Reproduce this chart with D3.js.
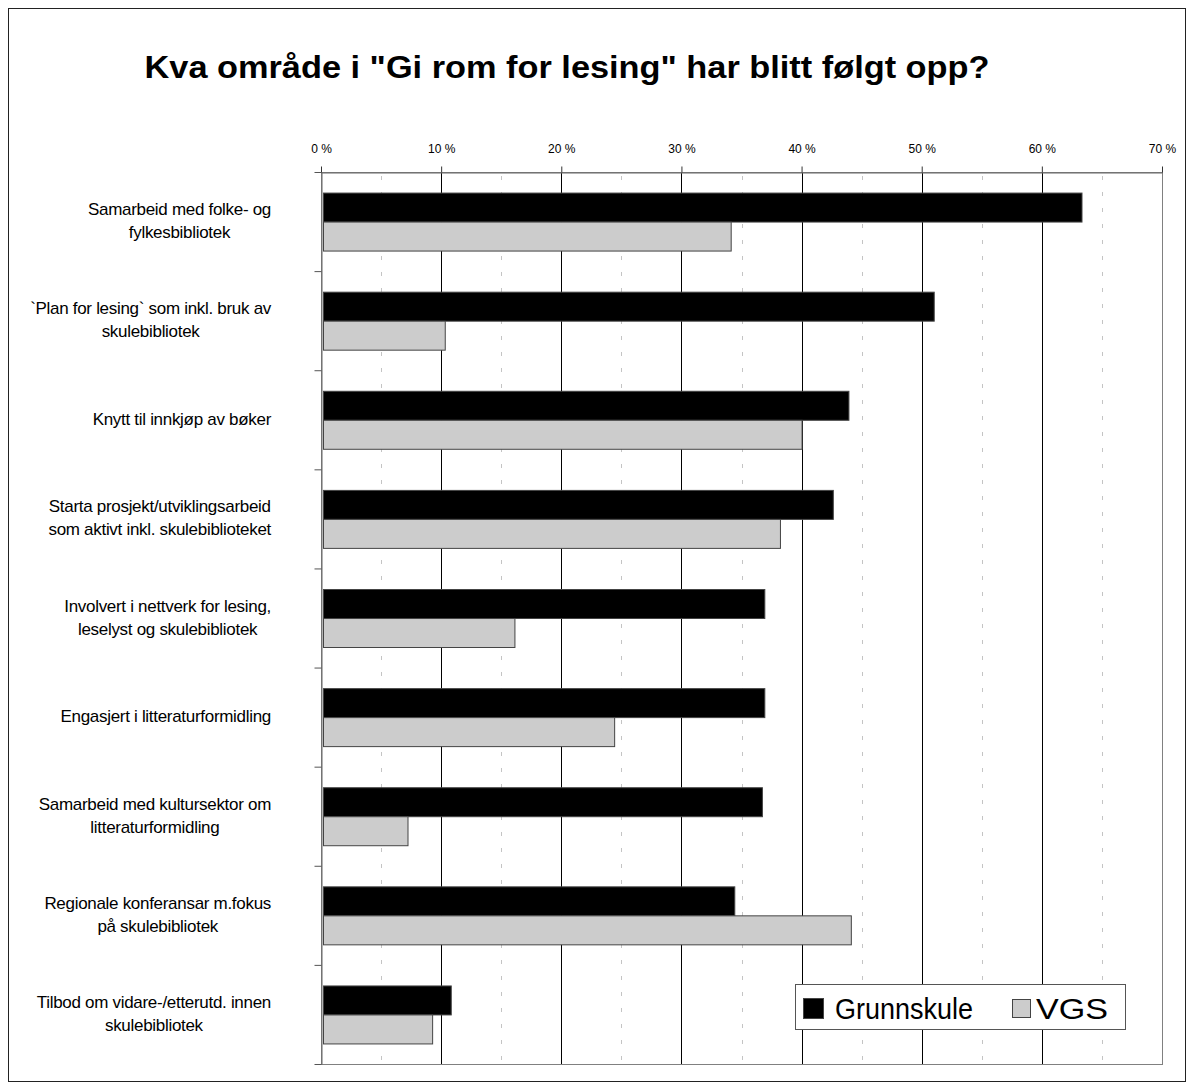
<!DOCTYPE html>
<html>
<head>
<meta charset="utf-8">
<script src="https://cdn.jsdelivr.net/npm/d3@7"></script>
<style>
body { margin: 0; background: #fff; }
text { font-family: "Liberation Sans", Arial, sans-serif; }
</style>
</head>
<body>
<svg width="1191" height="1089"></svg>
<script>
//data
var categories = [
    "Samarbeid med folke- og\nfylkesbibliotek",
    "`Plan for lesing` som inkl. bruk av\nskulebibliotek",
    "Knytt til innkjøp av bøker",
    "Starta prosjekt/utviklingsarbeid\nsom aktivt inkl. skulebiblioteket",
    "Involvert i nettverk for lesing,\nleselyst og skulebibliotek",
    "Engasjert i litteraturformidling",
    "Samarbeid med kultursektor om\nlitteraturformidling",
    "Regionale konferansar m.fokus\npå skulebibliotek",
    "Tilbod om vidare-/etterutd. innen\nskulebibliotek"
];
var grunnskule = [63.3, 51.0, 43.9, 42.6, 36.9, 36.9, 36.7, 34.4, 10.8];
var vgs = [34.1, 10.3, 40.0, 38.2, 16.1, 24.4, 7.2, 44.1, 9.25];
var series = ["Grunnskule", "VGS"];
var majorTicks = [0, 10, 20, 30, 40, 50, 60, 70];
var minorTicks = [5, 15, 25, 35, 45, 55, 65];
var title = "Kva område i \"Gi rom for lesing\" har blitt følgt opp?";

//colors
var fills = { "Grunnskule": "#000000", "VGS": "#cccccc" };

//sizes
var svg = d3.select("svg"),
    plot = { left: 321, right: 1162, top: 172, bottom: 1064 };

//scales
var x = d3.scaleLinear()
    .domain([0, 70])
    .range([plot.left, plot.right]);
var y = d3.scaleBand()
    .domain(d3.range(categories.length))
    .range([plot.top, plot.bottom])
    .paddingInner(0.415)
    .paddingOuter(0.2075);
var ySub = d3.scaleBand()
    .domain(series)
    .range([0, y.bandwidth()]);
var yEdge = d3.scaleLinear()
    .domain([0, categories.length])
    .range([plot.top, plot.bottom]);

//outer frame
svg.append("rect")
    .attr("x", 8.5).attr("y", 8.5)
    .attr("width", 1177).attr("height", 1073)
    .attr("fill", "#fff")
    .attr("stroke", "#222");

//title
svg.append("text")
    .attr("x", 567)
    .attr("y", 78)
    .attr("text-anchor", "middle")
    .attr("font-size", 31)
    .attr("font-weight", "bold")
    .attr("textLength", 845)
    .attr("lengthAdjust", "spacingAndGlyphs")
    .text(title);

//minor gridlines
svg.append("g").selectAll("line")
    .data(minorTicks)
    .enter().append("line")
    .attr("x1", d => Math.round(x(d)) + 0.5)
    .attr("x2", d => Math.round(x(d)) + 0.5)
    .attr("y1", plot.top + 4)
    .attr("y2", plot.bottom)
    .attr("stroke", "#c4c4c4")
    .attr("stroke-dasharray", "4,12");

//major gridlines
svg.append("g").selectAll("line")
    .data(majorTicks.slice(1, -1))
    .enter().append("line")
    .attr("x1", d => Math.round(x(d)) + 0.5)
    .attr("x2", d => Math.round(x(d)) + 0.5)
    .attr("y1", plot.top)
    .attr("y2", plot.bottom)
    .attr("stroke", "#000");

//plot border
svg.append("rect")
    .attr("x", plot.left + 0.5)
    .attr("y", plot.top + 0.5)
    .attr("width", plot.right - plot.left)
    .attr("height", plot.bottom - plot.top)
    .attr("fill", "none")
    .attr("stroke", "#808080");

//bars
var rows = categories.map((c, i) => ({ index: i, values: [grunnskule[i], vgs[i]] }));
var gRows = svg.append("g").selectAll("g")
    .data(rows)
    .enter().append("g")
    .attr("transform", d => "translate(0," + y(d.index) + ")");
gRows.selectAll("rect")
    .data(d => d.values.map((v, j) => ({ key: series[j], value: v })))
    .enter().append("rect")
    .attr("x", x(0) + 2.5)
    .attr("y", d => Math.round(ySub(d.key)) + 0.5)
    .attr("width", d => x(d.value) - x(0) - 2)
    .attr("height", ySub.bandwidth())
    .attr("fill", d => fills[d.key])
    .attr("stroke", "#444")
    .attr("stroke-width", 1);

//top axis
var gAxisX = svg.append("g")
    .attr("transform", "translate(0," + (plot.top + 0.5) + ")")
    .call(d3.axisTop(x)
        .tickValues(majorTicks)
        .tickSize(6)
        .tickSizeOuter(0)
        .tickPadding(14)
        .tickFormat(d => d + " %"));
gAxisX.select(".domain").attr("stroke", "#666");
gAxisX.selectAll(".tick line").attr("stroke", "#333");
gAxisX.selectAll(".tick text")
    .attr("font-family", "\"Liberation Sans\", Arial, sans-serif")
    .attr("font-size", 12)
    .attr("fill", "#000");

//left axis (ticks at category boundaries)
var gAxisY = svg.append("g")
    .attr("transform", "translate(" + (plot.left + 0.5) + ",0)")
    .call(d3.axisLeft(yEdge)
        .ticks(categories.length)
        .tickSize(7)
        .tickSizeOuter(0)
        .tickFormat(""));
gAxisY.select(".domain").attr("stroke", "#666");
gAxisY.selectAll(".tick line").attr("stroke", "#555");

//category labels
var lineHeight = 23,
    labelRight = 271;
var labels = svg.append("g").selectAll("text")
    .data(categories)
    .enter().append("text")
    .attr("text-anchor", "middle")
    .attr("font-size", 17)
    .attr("letter-spacing", -0.3)
    .attr("fill", "#000");
labels.each(function (d, i) {
    var lines = d.split("\n"),
        t = d3.select(this),
        mid = y(i) + y.bandwidth() / 2;
    lines.forEach((l, k) => {
        t.append("tspan")
            .attr("y", mid + (k - (lines.length - 1) / 2) * lineHeight + 5)
            .text(l);
    });
    var w = 0;
    t.selectAll("tspan").each(function () {
        w = Math.max(w, this.getComputedTextLength());
    });
    t.selectAll("tspan").attr("x", labelRight - w / 2);
});

//legend
var legend = svg.append("g")
    .attr("transform", "translate(795,984)");
legend.append("rect")
    .attr("x", 0.5).attr("y", 0.5)
    .attr("width", 330).attr("height", 45)
    .attr("fill", "#fff")
    .attr("stroke", "#555");
var legendPos = [
    { box: [8, 14, 20], text: 40, len: 138 },
    { box: [217, 15, 18], text: 241, len: 72 }
];
series.forEach((s, i) => {
    var p = legendPos[i];
    legend.append("rect")
        .attr("x", p.box[0] + 0.5).attr("y", p.box[1] + 0.5)
        .attr("width", p.box[2]).attr("height", p.box[2])
        .attr("fill", fills[s])
        .attr("stroke", "#444");
    legend.append("text")
        .attr("x", p.text)
        .attr("y", 35)
        .attr("font-size", 30)
        .attr("textLength", p.len)
        .attr("lengthAdjust", "spacingAndGlyphs")
        .text(s);
});
</script>
</body>
</html>
